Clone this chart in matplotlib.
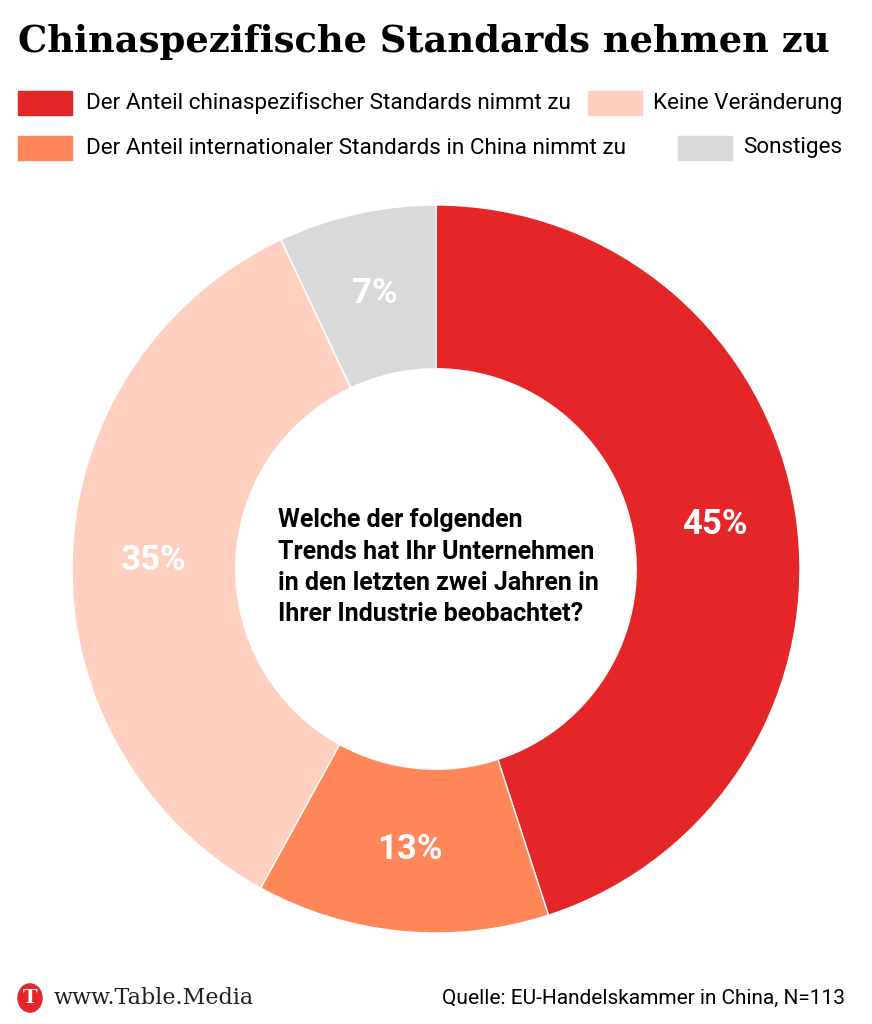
import matplotlib
matplotlib.use("Agg")
import matplotlib.pyplot as plt
from matplotlib.patches import Rectangle, Circle

# data
categories = [
    "Der Anteil chinaspezifischer Standards nimmt zu",
    "Der Anteil internationaler Standards in China nimmt zu",
    "Keine Veränderung",
    "Sonstiges",
]
values = [45, 13, 35, 7]
colors = ["#E52629", "#FF8659", "#FFCFBF", "#D9D9D9"]

title = "Chinaspezifische Standards nehmen zu"
question = ("Welche der folgenden\nTrends hat Ihr Unternehmen\n"
            "in den letzten zwei Jahren in\nIhrer Industrie beobachtet?")
source = "Quelle: EU-Handelskammer in China, N=113"
brand = "www.Table.Media"

W, H = 872, 1024
fig = plt.figure(figsize=(W / 100, H / 100), dpi=100)
fig.patch.set_facecolor("white")


def fx(x):
    return x / W


def fy(y):
    return 1 - y / H


# donut
cx, cy, R = 436, 569, 364
ax = fig.add_axes([fx(cx - R), fy(cy + R), 2 * R / W, 2 * R / H])
wedges, texts, autotexts = ax.pie(
    values, colors=colors, startangle=90, counterclock=False,
    radius=1, wedgeprops=dict(width=0.45, edgecolor="white", linewidth=1),
    autopct=lambda p: f"{p:.0f}%", pctdistance=0.775,
    textprops=dict(color="white", fontsize=25, fontweight="bold", family="Roboto"),
)
ax.set_xlim(-1, 1)
ax.set_ylim(-1, 1)
ax.set_aspect("equal")
ax.axis("off")

ax.text(-0.434, 0.005, question, ha="left", va="center", fontsize=18,
        fontweight="bold", family="Roboto", linespacing=1.38, color="black")

# title, scaled to span the same width as the original
t = fig.text(fx(18), fy(42), title, ha="left", va="center", fontsize=34,
             fontweight="bold", family="DejaVu Serif")
fig.canvas.draw()
w = t.get_window_extent().width
t.set_fontsize(34 * 812 / w)

# legend
fs = 16.2
rows = [(0, 103), (0, 148), (1, 103), (1, 148)]
for (col, y), lab, c in zip(rows, categories, colors):
    if col == 0:
        fig.patches.append(Rectangle((fx(18), fy(y + 12)), 54 / W, 24 / H,
                                     transform=fig.transFigure, color=c))
        fig.text(fx(86), fy(y), lab, ha="left", va="center", fontsize=fs,
                 family="Roboto")
    else:
        tt = fig.text(fx(842), fy(y), lab, ha="right", va="center",
                      fontsize=fs, family="Roboto")
        fig.canvas.draw()
        x0 = tt.get_window_extent().x0
        fig.patches.append(Rectangle(((x0 - 11 - 54) / W, fy(y + 12)), 54 / W, 24 / H,
                                     transform=fig.transFigure, color=c))

# footer
fig.patches.append(Circle((fx(30), fy(998)), 12 / W, transform=fig.transFigure,
                          color="#E52629"))
fig.text(fx(30), fy(998), "T", ha="center", va="center", color="white",
         fontsize=14, fontweight="bold", family="DejaVu Serif")
fig.text(fx(54), fy(998), brand, ha="left", va="center", fontsize=16,
         family="DejaVu Serif", color="#222222")
fig.text(fx(845), fy(998), source, ha="right", va="center", fontsize=15,
         family="Roboto", color="black")

fig.savefig("out.png", dpi=100, facecolor="white")
